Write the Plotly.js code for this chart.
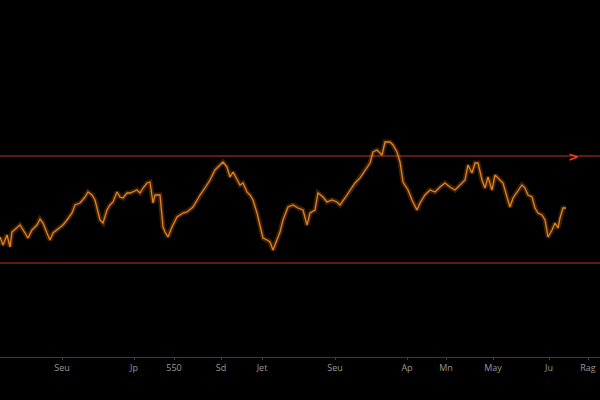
<!DOCTYPE html>
<html>
<head>
<meta charset="utf-8">
<script src="https://cdn.plot.ly/plotly-3.0.1.min.js"></script>
<style>html,body{margin:0;padding:0;background:#000;}#chart{width:600px;height:400px;}</style>
</head>
<body>
<div id="chart"></div>
<script>
// Time positions (x) and price levels (y)
const xs = [0,3,7,10,12,17,20,25,28,32,37,40,43,47,50,53,57,63,67,72,75,80,85,88,92,95,98,100,103,107,110,113,117,120,123,127,130,133,137,140,143,147,150,153,155,160,163,165,168,172,177,183,187,193,197,200,205,210,215,220,223,227,230,233,237,240,243,247,250,253,257,260,263,267,270,273,277,280,283,288,293,298,303,307,310,315,318,323,327,332,337,340,345,350,355,360,365,370,373,377,382,385,390,393,397,400,403,408,412,417,420,425,430,435,440,445,450,455,460,465,468,472,475,478,482,485,488,492,495,500,503,507,510,513,518,522,525,528,532,535,538,542,545,548,552,555,558,560,563,566];
const ypix = [237,245,235,247,232,227,225,233,238,230,225,219,223,233,240,233,230,225,220,213,205,203,197,192,195,200,212,220,223,210,205,202,192,197,198,193,193,192,190,193,188,183,182,203,195,195,227,232,237,227,217,213,212,207,200,195,188,180,170,165,162,167,177,172,180,185,183,192,195,200,213,227,238,240,242,250,240,232,220,207,205,208,210,225,213,210,193,197,202,200,202,205,198,190,183,178,170,163,152,150,155,142,142,145,152,162,182,190,200,210,203,195,190,192,187,183,187,190,185,180,165,173,163,163,180,188,177,190,175,180,183,197,207,198,190,185,188,195,197,208,213,215,220,237,230,223,228,218,208,208];
const prices = ypix.map(v => 357 - v);
const upperLevel = 201;
const lowerLevel = 94;
const lineStart = 0;
const lineEnd = 600;
const arrowX = 573;
const tickPos = [62,134,174,221,262,335,407,446,493,549,588];
const tickLabels = ['Seu','Jp','550','Sd','Jet','Seu','Ap','Mn','May','Ju','Rag'];

const traces = [
  {x:[lineStart,lineEnd], y:[upperLevel,upperLevel], mode:'lines', line:{color:'#b8392b', width:1.2}, hoverinfo:'skip'},
  {x:[lineStart,lineEnd], y:[lowerLevel,lowerLevel], mode:'lines', line:{color:'#b8392b', width:1.2}, hoverinfo:'skip'},
  {x:xs, y:prices, mode:'lines', line:{color:'rgba(220,110,20,0.28)', width:5}, hoverinfo:'skip'},
  {x:xs, y:prices, mode:'lines', line:{color:'#e3861f', width:1.3}}
];

const layout = {
  width:600, height:400,
  paper_bgcolor:'#000', plot_bgcolor:'#000',
  margin:{l:0, r:0, t:0, b:43},
  showlegend:false,
  xaxis:{range:[0,600], showgrid:false, zeroline:false, showline:true, linecolor:'#3a3a3a', linewidth:1,
         tickmode:'array', tickvals:tickPos, ticktext:tickLabels, ticks:'outside', ticklen:2, tickcolor:'#444',
         tickfont:{family:'Open Sans', size:9, color:'#9a9a9a'}},
  yaxis:{range:[0,357], visible:false, showgrid:false, zeroline:false},
  annotations:[{x:arrowX, y:upperLevel, xref:'x', yref:'y', text:'<b>&gt;</b>', showarrow:false,
                font:{family:'DejaVu Sans', size:13, color:'#e0452a'}, xanchor:'center', yanchor:'middle'}]
};
Plotly.newPlot('chart', traces, layout, {staticPlot:true, displayModeBar:false});
</script>
</body>
</html>
